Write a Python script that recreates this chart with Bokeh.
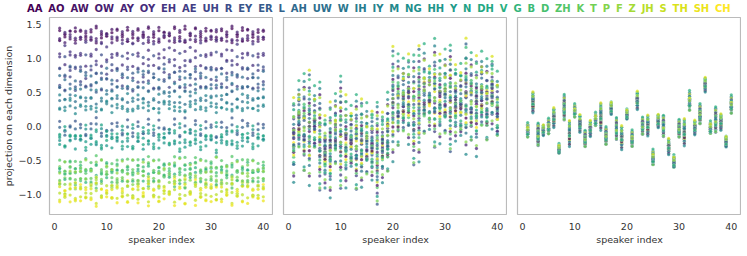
import numpy as np
from bokeh.plotting import figure
from bokeh.models import (ColumnDataSource, Range1d, FixedTicker, CustomJSTickFormatter, Div)
from bokeh.layouts import column, row
from bokeh.palettes import viridis
from bokeh.embed import file_html
from bokeh.resources import INLINE

# ---------------- data ----------------
phonemes = ["AA", "AO", "AW", "OW", "AY", "OY", "EH", "AE", "UH", "R", "EY", "ER", "L",
            "AH", "UW", "W", "IH", "IY", "M", "NG", "HH", "Y", "N", "DH", "V", "G", "B",
            "D", "ZH", "K", "T", "P", "F", "Z", "JH", "S", "TH", "SH", "CH"]
speakers = list(range(1, 41))

# panel 1: per-phoneme level + per-speaker variations
base1 = [1.37, 1.30, 1.40, 1.27, 1.33, 1.00, 1.10, 0.80, 0.60, 0.92, 0.00, 0.65, -0.06,
         0.75, 0.45, 0.50, 0.32, 0.38, 0.27, -0.15, -0.22, -0.25, -0.10, -0.19, -0.60, -0.70,
         -0.63, -0.78, -0.57, -0.74, -0.66, -0.82, -0.62, -0.92, -0.98, -1.02, -0.95, -1.05, -0.90]
ld1 = [0.06, -0.05, 0.04, 0.06, -0.05, 0.10, -0.08, 0.07, 0.10, -0.11, 0.07, -0.10, 0.08,
       0.10, -0.06, 0.11, -0.07, 0.10, 0.07, -0.10, 0.08, 0.07, -0.10, 0.11, -0.07, 0.08,
       0.10, -0.07, 0.10, -0.08, 0.11, 0.07, -0.10, 0.07, 0.10, -0.06, 0.08, -0.11, 0.10]
ld2 = [-0.04, 0.05, -0.06, 0.04, 0.05, -0.07, 0.11, -0.07, 0.06, 0.08, -0.10, 0.10, -0.04,
       0.07, 0.11, -0.08, 0.07, -0.10, 0.08, 0.06, -0.11, 0.08, 0.07, -0.07, 0.10, -0.10,
       0.04, 0.11, -0.08, 0.07, -0.06, 0.10, 0.08, -0.11, 0.07, 0.10, -0.07, 0.06, -0.10]
spk1 = [0.3, -0.8, 0.9, -0.2, 0.5, -0.6, 0.1, 0.8, -0.9, 0.4, -0.3, 0.7, -0.5, 0.2, -1.0,
        0.6, -0.1, 0.9, -0.7, 0.0, 0.5, -0.4, 0.8, -0.8, 0.3, -0.2, 1.0, -0.6, 0.1, 0.7,
        -0.9, 0.4, -0.3, 0.6, -0.5, 0.2, 0.9, -0.7, -0.1, 0.5]
spk2 = [-0.5, 0.2, 0.6, -0.9, 0.1, 0.8, -0.3, -0.7, 0.4, 0.9, -0.6, 0.0, 0.7, -0.8, 0.3,
        -0.2, 1.0, -0.4, 0.5, -0.9, 0.6, 0.2, -0.5, 0.8, -1.0, 0.4, -0.1, 0.7, -0.6, 0.3,
        0.9, -0.3, 0.0, -0.8, 0.6, -0.7, 0.2, 0.5, -0.4, 0.1]

# panel 2: per-speaker lower / upper extent, per-phoneme relative positions
lo2 = [-1.10, -0.80, -1.00, -0.96, -0.85, -1.16, -1.28, -1.23, -0.92, -1.07, -1.14, -1.10,
       -1.19, -1.01, -1.15, -1.23, -1.23, -1.12, -1.01, -0.61, -0.61, -0.61, -0.56, -0.79,
       -0.56, -0.58, -0.52, -0.61, -0.48, -0.63, -0.52, -0.61, -0.74, -0.56, -0.52, -0.63,
       -0.54, -0.56, -0.34, -0.70]
hi2 = [0.69, 0.99, 0.98, 0.91, 0.95, 0.78, 0.52, 0.53, 0.71, 0.83, 0.69, 0.69, 0.62, 0.51,
       0.63, 0.65, 0.40, 0.49, 0.71, 1.26, 1.26, 1.35, 1.35, 1.18, 1.22, 1.51, 1.31, 1.47,
       1.28, 1.47, 1.28, 1.29, 1.38, 1.44, 1.27, 1.22, 1.46, 1.21, 1.32, 1.18]
q2a = [0.55, 0.30, 0.72, 0.45, 0.10, 0.62, 0.38, 0.85, 0.50, 0.25, 0.68, 0.42, 0.95, 0.33,
       0.58, 0.18, 0.75, 0.47, 0.02, 0.65, 0.36, 0.53, 0.80, 0.28, 0.60, 0.44, 0.90, 0.22,
       0.70, 0.40, 0.57, 0.12, 0.78, 0.49, 0.34, 0.64, 0.98, 0.26, 0.52]
q2b = [0.40, 0.70, 0.22, 0.88, 0.52, 0.35, 0.63, 0.15, 0.76, 0.45, 0.05, 0.58, 0.30, 0.82,
       0.48, 0.67, 0.27, 0.93, 0.55, 0.38, 0.72, 0.12, 0.60, 0.43, 0.97, 0.33, 0.50, 0.78,
       0.20, 0.65, 0.08, 0.56, 0.42, 0.85, 0.62, 0.25, 0.46, 0.73, 0.36]

# panel 3: per-speaker cluster centre and half-width
c3 = [-0.07, 0.35, -0.125, -0.06, -0.01, 0.125, -0.34, 0.27, -0.11, 0.22, 0.04, -0.19,
      -0.035, 0.09, 0.14, -0.15, 0.26, -0.04, -0.17, 0.17, -0.19, 0.38, 0.0, 0.01, -0.47,
      0.075, 0.0, -0.30, -0.53, -0.04, -0.09, 0.36, -0.02, 0.17, 0.61, -0.03, 0.09, 0.06,
      -0.23, 0.31]
w3 = [0.18, 0.18, 0.19, 0.145, 0.17, 0.195, 0.14, 0.23, 0.21, 0.155, 0.22, 0.155, 0.17,
      0.18, 0.21, 0.18, 0.18, 0.185, 0.22, 0.15, 0.18, 0.21, 0.155, 0.18, 0.195, 0.18, 0.17,
      0.16, 0.185, 0.17, 0.22, 0.23, 0.18, 0.205, 0.155, 0.17, 0.215, 0.15, 0.155, 0.2]

# ---------------- build point tables ----------------
colors = viridis(len(phonemes))
nP, nS = len(phonemes), len(speakers)
sp = np.array(speakers, float)
S1, S2 = np.array(spk1), np.array(spk2)
mix2 = (S2 + 1) / 2
mix3 = (S1 + 1) / 2
LO, HI, C3, W3 = np.array(lo2), np.array(hi2), np.array(c3), np.array(w3)

# interleaved drawing order so that no single colour always sits on top
draw_order = [(i * 7) % nP for i in range(nP)]

xs, y1, y2, y3, cs = [], [], [], [], []
for i in draw_order:
    xs.append(sp)
    y1.append(base1[i] + ld1[i] * S1 + ld2[i] * S2)
    q = q2a[i] + mix2 * (q2b[i] - q2a[i])
    y2.append(LO + (HI - LO) * q)
    r = 2 * (q2a[i] + mix3 * (q2b[i] - q2a[i])) - 1
    y3.append(C3 + W3 * r)
    cs += [colors[i]] * nS
xs = np.concatenate(xs)
ys = [np.concatenate(y1), np.concatenate(y2), np.concatenate(y3)]

# ---------------- figures ----------------
yr = Range1d(-1.30, 1.60)
TXT = "#333333"
FW, FH = 224, 197
figs = []
for k in range(3):
    p = figure(frame_width=FW, frame_height=FH, x_range=Range1d(-0.95, 41.95), y_range=yr,
               output_backend="svg", toolbar_location=None,
               min_border_top=3, min_border_right=0, min_border_bottom=0,
               min_border_left=0 if k == 0 else 10)
    src = ColumnDataSource(dict(x=xs, y=ys[k], c=cs))
    p.scatter("x", "y", source=src, size=3.3, fill_color="c", fill_alpha=0.75,
              line_color="white", line_width=0.3, line_alpha=0.5)
    p.xgrid.visible = False
    p.ygrid.visible = False
    p.outline_line_color = "#bbbbbb"
    p.outline_line_width = 1.2
    p.background_fill_color = "white"
    p.border_fill_color = "white"
    for ax in (p.xaxis[0], p.yaxis[0]):
        ax.axis_line_color = None
        ax.major_tick_line_color = None
        ax.minor_tick_line_color = None
        ax.major_label_text_font = "DejaVu Sans"
        ax.major_label_text_font_size = "9.5px"
        ax.major_label_text_color = TXT
        ax.axis_label_text_font = "DejaVu Sans"
        ax.axis_label_text_font_size = "9.5px"
        ax.axis_label_text_font_style = "normal"
        ax.axis_label_text_color = TXT
        ax.major_label_standoff = 2
        ax.axis_label_standoff = 1
    p.xaxis.ticker = FixedTicker(ticks=[0, 10, 20, 30, 40])
    p.xaxis.axis_label = "speaker index"
    if k == 0:
        p.yaxis.ticker = FixedTicker(ticks=[-1.0, -0.5, 0.0, 0.5, 1.0, 1.5])
        p.yaxis.formatter = CustomJSTickFormatter(
            code="return (tick < 0 ? '\u2212' : '') + Math.abs(tick).toFixed(1);")
        p.yaxis.axis_label = "projection on each dimension"
    else:
        p.yaxis.visible = False
    figs.append(p)

# ---------------- phoneme header ----------------
spans = "".join(
    f'<span style="color:{c};font-weight:bold">{ph}</span>' for ph, c in zip(phonemes, colors))
header = Div(text=(f'<div style="display:flex;justify-content:space-between;'
                   f'font-family:\'DejaVu Sans\';font-size:10px;line-height:13px;'
                   f'margin-left:27px;width:704px">{spans}</div>'),
             width=731, height=14, margin=(0, 0, 0, 0))

layout = column(header, row(*figs, spacing=0), spacing=0)
open("out.html", "w").write(file_html(layout, INLINE))
